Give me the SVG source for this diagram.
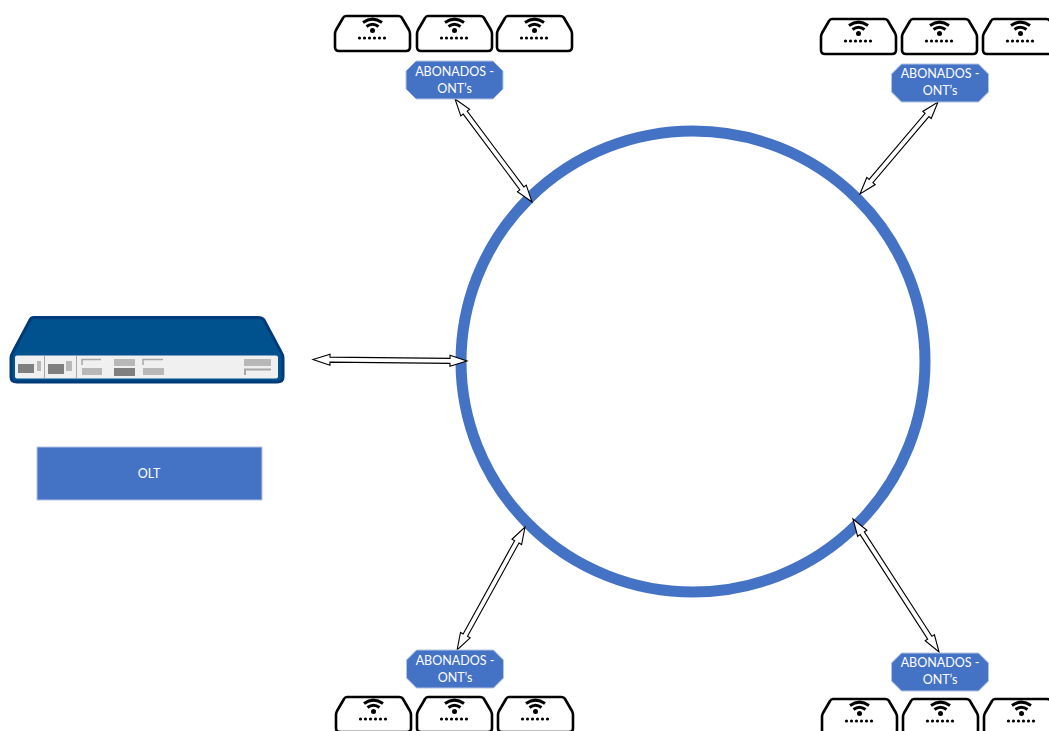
<svg xmlns="http://www.w3.org/2000/svg" xmlns:xlink="http://www.w3.org/1999/xlink" width="1049" height="731" viewBox="0 0 1049 731">
<style>
.lbl{fill:#4472c4;stroke:#b4c3e2;stroke-width:1}
.t{font-family:Lato,"Liberation Sans",sans-serif;font-size:12.5px;fill:#fff;text-anchor:middle}
.arr{fill:#fff;stroke:#000;stroke-width:1.1;stroke-linejoin:miter}
.ontb{fill:#fff;stroke:#000;stroke-width:2.6;stroke-linejoin:round}
.wifi{fill:none;stroke:#000;stroke-width:3}
.g1{fill:#b8b8b8}.g2{fill:#7f7f7f}
</style>
<defs>
<g id="ont">
<path class="ontb" d="M11,1 H63 Q66,1 67,3 L74,15 Q75,17 75,19 V32 Q75,36 71,36 H4 Q0,36 0,32 V19 Q0,17 1,15 L8,3 Q9,1 11,1 Z"/>
<path class="wifi" d="M28,7.500 Q37.500,0.800 47,7.500 M31.500,11.500 Q37.500,7 43.500,11.500"/>
<circle cx="37.500" cy="15.500" r="2.500"/>
<g><circle cx="24.500" cy="23" r="1.600"/><circle cx="29.500" cy="23" r="1.600"/><circle cx="34.500" cy="23" r="1.600"/><circle cx="39.500" cy="23" r="1.600"/><circle cx="44.500" cy="23" r="1.600"/><circle cx="49.500" cy="23" r="1.600"/></g>
</g>
</defs>
<rect width="1049" height="731" fill="#fff"/>
<g id="ring"><ellipse cx="693" cy="361.500" rx="232" ry="230.500" fill="none" stroke="#4472c4" stroke-width="11"/></g>
<g id="olt-device">
<path d="M34,317.500 H258 Q262,317.500 264,320 L281,352 Q283,355 283,358 V377 Q283,382 277,382 H17 Q11,382 11,377 V358 Q11,355 13,352 L30,320 Q31,317.500 34,317.500 Z" fill="#00528f" stroke="#003a78" stroke-width="3"/>
<rect x="15" y="355.500" width="263" height="23" rx="2" fill="#f0f0f0"/>
<path d="M44.500,356 V378 M76.500,356 V378" stroke="#a6a6a6" stroke-width="1"/>
<rect x="18" y="364" width="16" height="9" class="g2"/><rect x="37" y="361" width="4" height="10" class="g1"/>
<rect x="48" y="364" width="16" height="10" class="g2"/><rect x="66" y="361" width="6" height="10" class="g1"/>
<path d="M82,365 V359.500 H101" fill="none" stroke="#a6a6a6" stroke-width="1.500"/><rect x="82" y="368" width="20" height="7" class="g1"/>
<rect x="114" y="359" width="21" height="7" class="g1"/><rect x="114" y="368" width="21" height="8" class="g2"/>
<path d="M143,365 V359.500 H163" fill="none" stroke="#a6a6a6" stroke-width="1.500"/><rect x="143" y="368" width="21" height="7" class="g1"/>
<rect x="244" y="359" width="27" height="7" class="g1"/><path d="M245,375 V369.500 H271" fill="none" stroke="#a6a6a6" stroke-width="2"/>
</g>
<g id="olt-label"><rect x="37" y="447" width="225" height="53" fill="#4472c4" stroke="#b4c3e2" stroke-width="1"/><text class="t" x="149" y="477.500">OLT</text></g>
<g id="connectors">
<polygon class="arr" transform="translate(455,99) rotate(53.2)" points="0,0 17,-5.500 17,-2.500 111.600,-2.500 111.600,-5.500 128.600,0 111.600,5.500 111.600,2.500 17,2.500 17,5.500"/>
<polygon class="arr" transform="translate(938,102) rotate(130.3)" points="0,0 17,-5.500 17,-2.500 103.600,-2.500 103.600,-5.500 120.600,0 103.600,5.500 103.600,2.500 17,2.500 17,5.500"/>
<polygon class="arr" transform="translate(313,359.500) rotate(0.56)" points="0,0 17,-5.500 17,-2.500 137,-2.500 137,-5.500 154,0 137,5.500 137,2.500 17,2.500 17,5.500"/>
<polygon class="arr" transform="translate(525,527) rotate(118.9)" points="0,0 17,-5.500 17,-2.500 123.500,-2.500 123.500,-5.500 140.500,0 123.500,5.500 123.500,2.500 17,2.500 17,5.500"/>
<polygon class="arr" transform="translate(853,519) rotate(57.1)" points="0,0 17,-5.500 17,-2.500 141.400,-2.500 141.400,-5.500 158.400,0 141.400,5.500 141.400,2.500 17,2.500 17,5.500"/>
</g>
<g id="abonados-nw">
<path class="lbl" transform="translate(406,61)" d="M10,0 H87 L97,10 V28 L87,38 H10 L0,28 V10 Z"/>
<text class="t" x="454.500" y="76">ABONADOS -</text><text class="t" x="454.500" y="93">ONT’s</text>
<use xlink:href="#ont" href="#ont" x="335" y="15"/><use xlink:href="#ont" href="#ont" x="417" y="15"/><use xlink:href="#ont" href="#ont" x="497" y="15"/>
</g>
<g id="abonados-ne">
<path class="lbl" transform="translate(891.500,64)" d="M10,0 H87 L97,10 V28 L87,38 H10 L0,28 V10 Z"/>
<text class="t" x="940" y="78">ABONADOS -</text><text class="t" x="940" y="95">ONT’s</text>
<use xlink:href="#ont" href="#ont" x="821" y="18"/><use xlink:href="#ont" href="#ont" x="902" y="18"/><use xlink:href="#ont" href="#ont" x="983" y="18"/>
</g>
<g id="abonados-sw">
<path class="lbl" transform="translate(406.500,650)" d="M10,0 H87 L97,10 V28 L87,38 H10 L0,28 V10 Z"/>
<text class="t" x="455" y="665">ABONADOS -</text><text class="t" x="455" y="682">ONT’s</text>
<use xlink:href="#ont" href="#ont" x="336" y="696"/><use xlink:href="#ont" href="#ont" x="417" y="696"/><use xlink:href="#ont" href="#ont" x="498" y="696"/>
</g>
<g id="abonados-se">
<path class="lbl" transform="translate(891.500,653)" d="M10,0 H87 L97,10 V28 L87,38 H10 L0,28 V10 Z"/>
<text class="t" x="940" y="667">ABONADOS -</text><text class="t" x="940" y="684">ONT’s</text>
<use xlink:href="#ont" href="#ont" x="822" y="698"/><use xlink:href="#ont" href="#ont" x="903" y="698"/><use xlink:href="#ont" href="#ont" x="984" y="698"/>
</g>
</svg>
